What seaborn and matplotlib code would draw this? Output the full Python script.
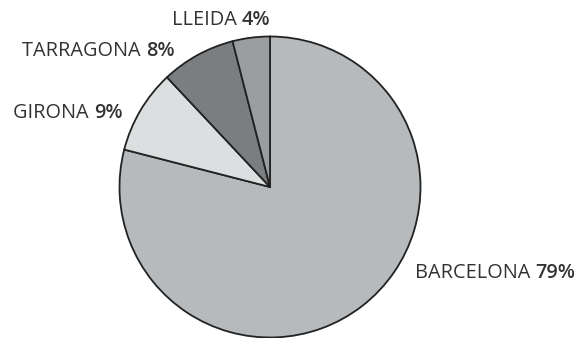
import matplotlib
matplotlib.use('Agg')
import matplotlib.pyplot as plt
import seaborn as sns

provinces = ['BARCELONA', 'GIRONA', 'TARRAGONA', 'LLEIDA']
shares = [79, 9, 8, 4]
colors = ['#b6babd', '#dcdfe0', '#7b7e80', '#9b9ea0']

# label anchor (left edge, baseline) in pixels from top-left
label_px = [(415, 278), (13, 118), (22, 56), (172, 25)]

sns.set_style('white')
plt.rcParams['font.family'] = ['Open Sans', 'DejaVu Sans']

W, H = 581, 338
fig = plt.figure(figsize=(W / 100, H / 100), dpi=100)
# pie centre ~ (270,186) px, radius ~152 px
cx, cy, r = 270, 187, 152
ax = fig.add_axes([(cx - r) / W, 1 - (cy + r) / H, 2 * r / W, 2 * r / H])
ax.pie(shares, colors=sns.color_palette(colors), startangle=90, counterclock=False,
       radius=1, wedgeprops=dict(edgecolor='#222222', linewidth=1.3))
ax.set_xlim(-1.01, 1.01)
ax.set_ylim(-1.01, 1.01)
ax.set_aspect('equal')
ax.axis('off')

renderer = fig.canvas.get_renderer()
for name, val, (px, py) in zip(provinces, shares, label_px):
    t = fig.text(px / W, 1 - py / H, name + ' ', fontsize=14.3, color='#333333',
                 ha='left', va='baseline')
    bb = t.get_window_extent(renderer=renderer)
    fig.text(bb.x1 / W, 1 - py / H, f'{val}%', fontsize=14.3, fontweight='semibold',
             color='#333333', ha='left', va='baseline')

fig.savefig('out.png', dpi=100)
